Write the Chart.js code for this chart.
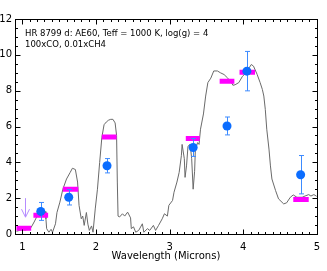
<!DOCTYPE html>
<html>
<head>
<meta charset="utf-8">
<script src="https://cdn.jsdelivr.net/npm/chart.js@4/dist/chart.umd.min.js"></script>
<style>
  html, body { margin: 0; padding: 0; background: #fff; }
  #wrap { width: 327px; height: 271px; }
</style>
</head>
<body>
<div id="wrap"><canvas id="specChart"></canvas></div>
<script>
// model spectrum (gray line)
const specWave = [0.92, 0.96, 1.00, 1.04, 1.08, 1.11, 1.13, 1.16, 1.20, 1.23, 1.26, 1.29, 1.31, 1.32, 1.33,
    1.36, 1.39, 1.41, 1.45, 1.47, 1.51, 1.55, 1.60, 1.65, 1.68, 1.72, 1.75, 1.77, 1.80, 1.82, 1.84, 1.87,
    1.89, 1.91, 1.94, 1.96, 1.99, 2.02, 2.05, 2.08, 2.11, 2.14, 2.17, 2.20, 2.23, 2.26, 2.28, 2.29, 2.30,
    2.32, 2.36, 2.39, 2.43, 2.47, 2.48, 2.51, 2.54, 2.58, 2.63, 2.65, 2.70, 2.73, 2.78, 2.81, 2.85, 2.90,
    2.93, 2.97, 2.99, 3.04, 3.06, 3.10, 3.13, 3.16, 3.17, 3.20, 3.21, 3.23, 3.25, 3.28, 3.30, 3.32, 3.34,
    3.35, 3.38, 3.40, 3.42, 3.46, 3.49, 3.52, 3.56, 3.60, 3.65, 3.69, 3.74, 3.79, 3.83, 3.86, 3.89, 3.94,
    3.99, 4.04, 4.08, 4.11, 4.14, 4.19, 4.23, 4.26, 4.28, 4.30, 4.32, 4.35, 4.37, 4.39, 4.44, 4.48, 4.55,
    4.59, 4.64, 4.68, 4.73, 4.80, 4.84, 4.89, 4.92, 4.96, 5.00];
const specFlux = [0.15, 0.20, 0.25, 0.22, 0.28, 0.32, 0.45, 0.67, 1.00, 1.25, 1.30, 1.35, 1.25, 0.85, 0.30,
    0.10, 0.26, 0.10, 0.57, 1.20, 1.78, 2.50, 3.07, 3.44, 3.67, 3.60, 2.90, 1.60, 0.85, 1.00, 0.48, 1.20,
    0.55, 0.20, 0.45, 0.10, 1.40, 2.50, 4.00, 5.40, 6.10, 6.25, 6.35, 6.40, 6.40, 6.20, 5.50, 2.90, 1.00,
    0.95, 1.13, 1.00, 1.22, 0.90, 0.30, 0.40, 0.10, 0.20, 0.57, 0.10, 0.30, 0.20, 0.48, 0.20, 0.48, 0.85,
    1.13, 1.00, 1.60, 1.87, 2.33, 2.90, 3.44, 4.37, 5.00, 4.20, 3.16, 3.80, 4.90, 5.00, 4.20, 2.50, 3.50,
    4.70, 5.10, 5.00, 5.85, 6.70, 7.70, 8.45, 8.70, 9.10, 9.10, 9.00, 8.90, 8.70, 8.53, 8.30, 8.33, 8.45,
    8.80, 9.00, 9.27, 9.46, 9.37, 8.90, 8.45, 8.07, 7.70, 6.96, 5.85, 4.74, 3.80, 3.07, 2.42, 1.96, 1.68,
    1.74, 2.05, 2.18, 2.05, 2.05, 2.12, 2.20, 2.12, 2.20, 2.10];

// band-averaged model (magenta bars)
const bandLo = [0.92, 1.15, 1.55, 2.08, 3.22, 3.68, 3.95, 4.68];
const bandHi = [1.12, 1.35, 1.76, 2.28, 3.41, 3.88, 4.16, 4.89];
const bandFlux = [0.32, 1.05, 2.50, 5.42, 5.33, 8.53, 9.03, 1.92];

// photometry (blue points)
const obsWave = [1.25, 1.63, 2.15, 3.32, 3.78, 4.05, 4.78];
const obsFlux = [1.26, 2.05, 3.81, 4.83, 6.03, 9.09, 3.31];
const obsErr = [0.50, 0.43, 0.40, 0.50, 0.50, 1.10, 1.07];

// upper limit arrow
const limitWave = [1.03];
const limitTop = [2.0];
const limitTip = [0.94];

const xTicks = [1, 2, 3, 4, 5];
const yTicks = [0, 2, 4, 6, 8, 10, 12];
const noteLines = ["HR 8799 d: AE60, Teff = 1000 K, log(g) = 4", "100xCO, 0.01xCH4"];

const specData = specWave.map((w, i) => ({x: w, y: specFlux[i]}));
const bandData = [];
bandLo.forEach((lo, i) => {
    bandData.push({x: lo, y: bandFlux[i]});
    bandData.push({x: bandHi[i], y: bandFlux[i]});
    bandData.push({x: bandHi[i], y: null});
});
const obsData = obsWave.map((w, i) => ({x: w, y: obsFlux[i]}));

const FONT = "'DejaVu Sans', Verdana, sans-serif";

const extrasPlugin = {
    id: "extras",
    beforeDatasetDraw(chart, args) {
        if (args.index !== 0) return;
        // error bars under the blue points
        const ctx = chart.ctx, xs = chart.scales.x, ys = chart.scales.y;
        ctx.save();
        ctx.strokeStyle = "#3d8bff";
        ctx.lineWidth = 1;
        obsWave.forEach((w, i) => {
            const px = Math.round(xs.getPixelForValue(w)) + 0.5;
            const top = ys.getPixelForValue(obsFlux[i] + obsErr[i]);
            const bot = ys.getPixelForValue(obsFlux[i] - obsErr[i]);
            ctx.beginPath();
            ctx.moveTo(px, top); ctx.lineTo(px, bot);
            ctx.moveTo(px - 2.5, top); ctx.lineTo(px + 2.5, top);
            ctx.moveTo(px - 2.5, bot); ctx.lineTo(px + 2.5, bot);
            ctx.stroke();
        });
        ctx.restore();
    },
    afterDraw(chart) {
        const ctx = chart.ctx, xs = chart.scales.x, ys = chart.scales.y;
        const a = chart.chartArea;
        ctx.save();
        // upper limit
        ctx.strokeStyle = "#b58cff";
        ctx.lineWidth = 1;
        limitWave.forEach((w, i) => {
            const px = Math.round(xs.getPixelForValue(w)) + 0.5;
            const t = ys.getPixelForValue(limitTop[i]);
            const b = ys.getPixelForValue(limitTip[i]);
            ctx.beginPath();
            ctx.moveTo(px, t); ctx.lineTo(px, b);
            ctx.moveTo(px - 4, b - 8); ctx.lineTo(px, b); ctx.lineTo(px + 4, b - 8);
            ctx.stroke();
        });
        // frame
        ctx.strokeStyle = "#000";
        ctx.lineWidth = 1;
        const L = Math.round(a.left) + 0.5, R = Math.round(a.right) + 0.5;
        const T = Math.round(a.top) + 0.5, B = Math.round(a.bottom) + 0.5;
        ctx.strokeRect(L, T, R - L, B - T);
        // inside ticks, major and minor
        ctx.beginPath();
        for (let k = 9; k <= 50; k++) {
            const v = k / 10;
            const len = k % 10 === 0 ? 5 : 2.5;
            const px = Math.round(xs.getPixelForValue(v)) + 0.5;
            ctx.moveTo(px, B); ctx.lineTo(px, B - len);
            ctx.moveTo(px, T); ctx.lineTo(px, T + len);
        }
        for (let k = 0; k <= 24; k++) {
            const v = k / 2;
            const len = k % 4 === 0 ? 5 : 2.5;
            const py = Math.round(ys.getPixelForValue(v)) + 0.5;
            ctx.moveTo(L, py); ctx.lineTo(L + len, py);
            ctx.moveTo(R, py); ctx.lineTo(R - len, py);
        }
        ctx.stroke();
        // annotation
        ctx.fillStyle = "#000";
        ctx.font = "8.5px " + FONT;
        ctx.textBaseline = "middle";
        ctx.textAlign = "left";
        noteLines.forEach((t, i) => ctx.fillText(t, a.left + 10, a.top + 15 + i * 11));
        ctx.restore();
    }
};

window.addEventListener("load", () => {
    new Chart(document.getElementById("specChart"), {
        type: "scatter",
        data: {
            datasets: [
                {
                    label: "Photometry",
                    data: obsData,
                    pointRadius: 4.5,
                    pointBackgroundColor: "#0b6dff",
                    pointBorderWidth: 0,
                    order: 0
                },
                {
                    label: "Band model",
                    type: "line",
                    data: bandData,
                    borderColor: "#ff00ff",
                    borderWidth: 5,
                    borderCapStyle: "butt",
                    pointRadius: 0,
                    spanGaps: false,
                    order: 1
                },
                {
                    label: "Spectrum",
                    type: "line",
                    data: specData,
                    borderColor: "#6a6a6a",
                    borderWidth: 1,
                    pointRadius: 0,
                    tension: 0,
                    order: 2
                }
            ]
        },
        options: {
            responsive: true,
            maintainAspectRatio: false,
            animation: false,
            events: [],
            layout: {padding: {top: 19, right: 8, left: 0, bottom: 0}},
            plugins: {legend: {display: false}, tooltip: {enabled: false}},
            scales: {
                x: {
                    type: "linear",
                    min: 0.9,
                    max: 5.0,
                    grid: {display: false, drawTicks: false},
                    border: {display: false},
                    afterBuildTicks: s => { s.ticks = xTicks.map(v => ({value: v})); },
                    afterFit: s => { s.height = 37; },
                    ticks: {
                        color: "#000",
                        padding: 7,
                        maxRotation: 0,
                        font: {family: FONT, size: 10},
                        callback: v => String(v)
                    },
                    title: {
                        display: true,
                        text: "Wavelength (Microns)",
                        color: "#000",
                        font: {family: FONT, size: 10},
                        padding: {top: 0, bottom: 9}
                    }
                },
                y: {
                    type: "linear",
                    min: 0,
                    max: 12,
                    grid: {display: false, drawTicks: false},
                    border: {display: false},
                    afterBuildTicks: s => { s.ticks = yTicks.map(v => ({value: v})); },
                    afterFit: s => { s.width = 15; },
                    ticks: {
                        color: "#000",
                        padding: 3,
                        font: {family: FONT, size: 10},
                        callback: v => String(v)
                    }
                }
            }
        },
        plugins: [extrasPlugin]
    });
});
</script>
</body>
</html>
